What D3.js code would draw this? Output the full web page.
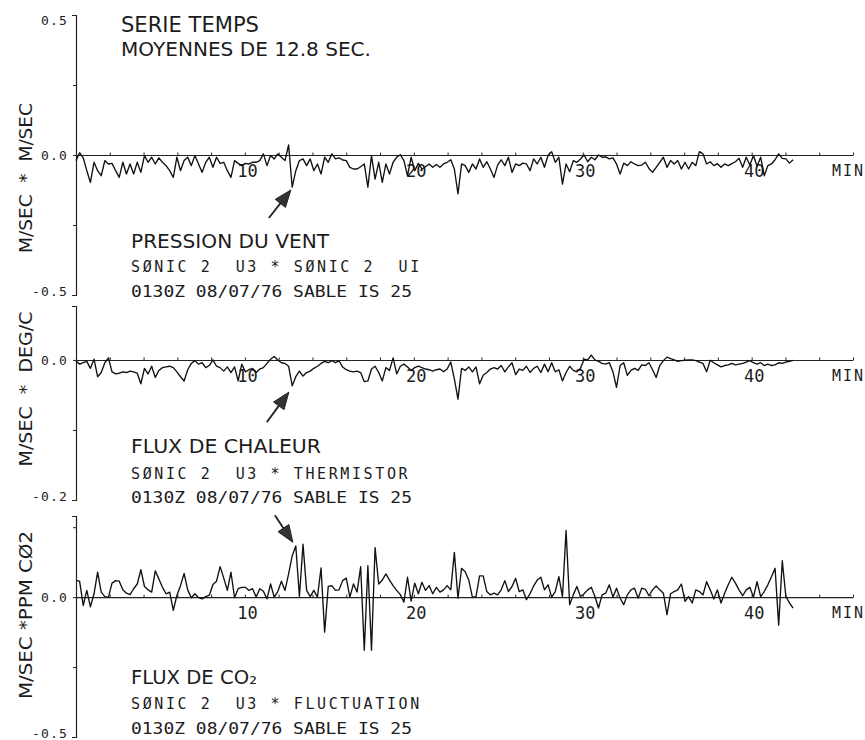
<!DOCTYPE html>
<html>
<head>
<meta charset="utf-8">
<script src="https://cdn.jsdelivr.net/npm/d3@7"></script>
<style>
  body { margin: 0; background: #fff; }
  svg text { fill: #1c1c1c; }
  .mono { font-family: "DejaVu Sans Mono", monospace; }
  .sans { font-family: "DejaVu Sans", "Liberation Sans", sans-serif; }
</style>
</head>
<body>
<div id="chart"></div>
<script>
// one value every 12.8 s (moyennes de 12.8 sec)
const SAMPLE_SEC = 12.8;
const minuteTicks = d3.range(0, 47, 2);
const minuteLabels = [10, 20, 30, 40];

// M/SEC * M/SEC
const pressionVent = [
  -0.02, 0.008, -0.01, -0.056, -0.098, -0.026, -0.056, -0.074, -0.02, -0.032,
  -0.03, -0.056, -0.08, -0.026, -0.068, -0.032, -0.068, -0.026, -0.062, -0.002,
  -0.026, -0.008, -0.032, -0.01, -0.026, -0.038, -0.056, -0.08, -0.008, -0.056,
  -0.02, -0.008, -0.038, -0.002, -0.032, -0.062, -0.026, -0.008, -0.044, -0.008,
  -0.03, -0.026, -0.056, -0.08, -0.02, -0.03, -0.038, -0.03, -0.032, -0.026,
  -0.026, -0.02, 0.004, -0.038, -0.002, -0.014, 0.004, -0.008, -0.02, 0.036,
  -0.115, -0.056, -0.02, -0.014, -0.038, -0.014, -0.056, -0.032, -0.068, -0.008,
  -0.026, 0.004, -0.014, -0.01, -0.018, -0.02, -0.044, -0.05, -0.05, -0.042,
  -0.032, -0.115, -0.002, -0.086, -0.026, -0.098, -0.032, -0.068, -0.026, -0.008,
  0.001, -0.02, -0.074, -0.008, -0.056, -0.03, -0.05, -0.042, -0.032, -0.044,
  -0.034, -0.044, -0.032, -0.026,
  -0.017, -0.05, -0.139, -0.032, -0.038, -0.062, -0.032, -0.05, -0.014, -0.044,
  -0.024, -0.05, -0.08, -0.036, -0.017, -0.038, -0.008, -0.062, -0.032, -0.038,
  -0.029, -0.032, -0.056, -0.014, -0.032, -0.008, -0.044, -0.002, 0.012, -0.026,
  -0.008, -0.104, -0.032, -0.06, -0.02, -0.026, -0.014, 0, -0.024, -0.008,
  -0.017, 0, -0.008, -0.007, -0.014, -0.01, -0.032, -0.068, -0.029, -0.038,
  -0.024, -0.032, -0.038, -0.036, -0.026, -0.048, -0.062, -0.044, -0.026, -0.008,
  -0.044, -0.02, -0.032, -0.02, -0.05, -0.026, -0.05, -0.026, -0.038, 0.012,
  0.004, -0.032, -0.024, -0.038, -0.031, -0.044, -0.032, -0.038, -0.031, -0.024,
  -0.012, -0.044, -0.008, -0.036, -0.002, -0.04, -0.008, -0.074, -0.038, -0.032,
  -0.017, 0.004, -0.012, -0.014, -0.029, -0.017
];

// M/SEC * DEG/C
const fluxChaleur = [
  -0.0015, -0.006, -0.004, -0.002, -0.012, 0.001, -0.024, -0.018, -0.004, 0.003,
  -0.017, -0.02, -0.019, -0.017, -0.018, -0.016, -0.017, -0.019, -0.034, -0.012,
  -0.02, -0.009, -0.025, -0.015, -0.011, -0.01, -0.009, -0.011, -0.017, -0.024,
  -0.03, -0.014, -0.005, -0.001, -0.006, -0.004, -0.011, -0.008, 0, -0.009,
  -0.011, -0.016, -0.01, -0.018, -0.01, -0.03, -0.006, -0.017, -0.014, -0.012,
  -0.018, -0.013, -0.011, -0.005, 0.001, 0.005, 0, -0.004, -0.005, -0.009,
  -0.037, -0.024, -0.016, -0.023, -0.018, -0.016, -0.012, -0.009, -0.005, -0.002,
  -0.004, -0.001, -0.004, -0.0015, -0.01, -0.014, -0.016, -0.017, -0.016, -0.018,
  -0.031, -0.03, -0.013, -0.009, -0.018, -0.03, -0.011, -0.015, 0.003, -0.02,
  -0.009, -0.006, -0.01, -0.015, -0.011, -0.009, -0.011, -0.013, -0.014, -0.016,
  -0.014, -0.013, -0.017, -0.013,
  -0.003, -0.027, -0.056, -0.012, -0.015, -0.01, -0.017, -0.01, -0.034, -0.022,
  -0.018, -0.013, -0.011, -0.013, -0.008, -0.017, -0.01, -0.004, -0.021, -0.013,
  -0.015, -0.009, -0.018, -0.012, -0.009, -0.018, -0.006, -0.017, -0.004, -0.017,
  -0.014, -0.03, -0.018, -0.009, -0.015, -0.017, -0.012, 0.001, 0, 0.007,
  0, -0.002, -0.005, -0.006, -0.004, -0.017, -0.039, -0.008, -0.004, -0.022,
  -0.015, -0.012, -0.015, -0.007, -0.008, -0.004, -0.014, -0.025, -0.008, -0.001,
  0.004, 0.002, 0, -0.002, -0.001, -0.0005, 0, 0, -0.001, -0.003,
  -0.005, -0.017, -0.0005, -0.004, -0.007, -0.01, -0.008, -0.007, -0.005, -0.007,
  -0.006, -0.005, -0.003, -0.001, -0.004, -0.006, -0.004, -0.008, -0.006, -0.008,
  -0.007, -0.004, -0.005, -0.003, -0.002, -0.0005
];

// M/SEC * PPM CO2
const fluxCO2 = [
  0.059, 0.057, -0.03, 0.024, -0.035, 0.012, 0.089, 0.018, 0.002, 0,
  0.05, 0.059, 0.057, 0.026, 0.014, 0.009, 0.03, 0.047, 0.098, 0.038,
  0.026, 0.018, 0.094, 0.065, 0.035, 0.012, 0.018, -0.047, 0.006, 0.041,
  0.085, 0.026, -0.002, 0.012, -0.002, -0.006, 0.002, 0.007, 0.045, 0.057,
  0.109, 0.068, 0.024, 0.089, -0.002, 0.03, 0.035, 0.035, 0.024, 0.03,
  0, 0.03, 0.021, -0.006, 0.047, 0, 0.02, 0.057, 0.024, 0.083,
  0.148, 0.183, 0.002, 0.189, 0.024, 0.002, 0.024, 0, 0.104, -0.125,
  0.038, 0.041, 0.024, 0.026, 0.059, 0.068, 0, 0.047, 0.018, 0.109,
  -0.19, 0.112, -0.19, 0.177, 0.047, 0.061, 0.083, 0.061, 0.041, 0.024,
  0.009, -0.018, 0.071, -0.014, 0.05, 0.012, 0.053, 0.024, 0.041, 0.012,
  0.035, 0.018, 0.026, 0.041,
  0.026, 0.16, -0.004, 0.103, 0.091, 0.061, 0, 0.002, 0.076, 0.076,
  0.02, 0.008, 0.014, 0.008, 0.026, 0.059, 0.02, 0.038, 0.067, 0.02,
  0.026, -0.009, 0.012, 0.04, 0.061, 0.071, 0.026, 0.044, 0, 0.02,
  0.073, 0.002, 0.238, -0.027, 0.008, 0.038, 0.002, 0.012, 0.026, 0.035,
  0.002, -0.039, 0.008, 0.014, 0.044, 0, 0.032, -0.004, -0.027, 0.008,
  0.026, 0.032, -0.004, 0.032, 0.028, 0.005, 0.026, 0.04, 0.026, 0.014,
  -0.063, 0.012, 0.02, 0.026, 0.047, -0.015, 0.002, -0.021, 0.026, 0.02,
  0.008, 0.055, 0.026, -0.007, 0.026, -0.021, 0.014, 0.044, 0.071, 0.05,
  0.026, 0.005, 0.026, 0.035, 0, 0.055, 0.002, 0.02, 0.044, 0.073,
  0.103, -0.1, 0.13, 0.002, -0.021, -0.039
];

const panels = [
  {
    values: pressionVent, domain: [-0.5, 0.5], range: [295, 15],
    labels: [0.5, 0, -0.5], minor: [0.25, -0.25],
    yTitle: "M/SEC  *  M/SEC", yTitleY: 178, yTitleLen: 150,
    title: "PRESSION DU VENT", titleLen: 198,
    line2: "SØNIC 2  U3 * SØNIC 2  UI",
    line3: "0130Z 08/07/76 SABLE IS 25",
    textY: [248, 272, 297],
    arrow: { t: 12.72, v: -0.125, from: [-22, 28] }
  },
  {
    values: fluxChaleur, domain: [-0.2, 0.077], range: [500, 306],
    labels: [0, -0.2], minor: [-0.1],
    yTitle: "M/SEC  *  DEG/C", yTitleY: 389, yTitleLen: 155,
    title: "FLUX DE CHALEUR", titleLen: 190,
    line2: "SØNIC 2  U3 * THERMISTOR",
    line3: "0130Z 08/07/76 SABLE IS 25",
    textY: [453, 479, 503],
    arrow: { t: 12.6, v: -0.046, from: [-22, 30] }
  },
  {
    values: fluxCO2, domain: [-0.5, 0.29], range: [737, 516],
    labels: [0, -0.5], minor: [0.25, -0.25],
    yTitle: "M/SEC *PPM CØ2", yTitleY: 615, yTitleLen: 168,
    title: "FLUX DE CO\u2082", titleLen: 126,
    line2: "SØNIC 2  U3 * FLUCTUATION",
    line3: "0130Z 08/07/76 SABLE IS 25",
    textY: [684, 709, 734],
    arrow: { t: 12.84, v: 0.196, from: [-18, -27] }
  }
];

const width = 865;
const height = 740;
const svg = d3.select("#chart").append("svg")
  .attr("width", width)
  .attr("height", height);

const x = d3.scaleLinear().domain([0, 46]).range([76, 853]);
const fmt = d => d3.format(".1f")(d).replace("\u2212", "-");

svg.append("text")
  .attr("class", "sans")
  .attr("x", 121).attr("y", 32)
  .attr("font-size", 21)
  .attr("textLength", 138).attr("lengthAdjust", "spacingAndGlyphs")
  .text("SERIE TEMPS");

svg.append("text")
  .attr("class", "sans")
  .attr("x", 121).attr("y", 56)
  .attr("font-size", 20)
  .attr("textLength", 250).attr("lengthAdjust", "spacingAndGlyphs")
  .text("MOYENNES DE 12.8 SEC.");

panels.forEach(p => {
  const y = d3.scaleLinear().domain(p.domain).range(p.range);
  const g = svg.append("g");

  // vertical axis
  const yAxis = g.append("g")
    .attr("transform", `translate(${x(0)},0)`)
    .call(d3.axisLeft(y)
      .tickValues(p.labels.concat(p.minor))
      .tickSize(3)
      .tickSizeOuter(4)
      .tickPadding(5)
      .tickFormat(d => p.labels.includes(d) ? fmt(d) : ""));
  yAxis.select(".domain").attr("stroke", "#222").attr("stroke-width", 1.2);
  yAxis.selectAll(".tick line").attr("stroke", "#222");
  yAxis.selectAll(".tick text")
    .attr("class", "mono")
    .attr("font-size", 13)
    .attr("letter-spacing", 1.2)
    .attr("fill", "#1c1c1c")
    .attr("dy", d => d === p.domain[1] ? "0.72em" : d === p.domain[0] ? "0em" : "0.35em");

  // zero line with minute ticks
  const xAxis = g.append("g")
    .attr("transform", `translate(0,${y(0)})`)
    .call(d3.axisBottom(x)
      .tickValues(minuteTicks)
      .tickSize(-2.5)
      .tickSizeOuter(0)
      .tickPadding(10)
      .tickFormat(d => minuteLabels.includes(d) ? d : ""));
  xAxis.select(".domain").attr("stroke", "#222").attr("stroke-width", 1.1);
  xAxis.selectAll(".tick line").attr("stroke", "#222");
  xAxis.selectAll(".tick text")
    .attr("class", "mono")
    .attr("font-size", 17)
    .attr("fill", "#1c1c1c")
    .attr("x", 2);

  g.append("text")
    .attr("class", "mono")
    .attr("x", 832).attr("y", y(0) + 21)
    .attr("font-size", 15)
    .attr("letter-spacing", 2)
    .text("MIN");

  // series
  const line = d3.line()
    .x((d, i) => x(i * SAMPLE_SEC / 60))
    .y(d => y(d));
  g.append("path")
    .datum(p.values)
    .attr("fill", "none")
    .attr("stroke", "#111")
    .attr("stroke-width", 1.35)
    .attr("stroke-linejoin", "round")
    .attr("d", line);

  // axis title
  g.append("text")
    .attr("class", "sans")
    .attr("transform", `translate(32,${p.yTitleY}) rotate(-90)`)
    .attr("text-anchor", "middle")
    .attr("font-size", 18)
    .attr("textLength", p.yTitleLen).attr("lengthAdjust", "spacingAndGlyphs")
    .style("white-space", "pre")
    .text(p.yTitle);

  // arrow pointing at the event
  const tipX = x(p.arrow.t);
  const tipY = y(p.arrow.v);
  const tailX = tipX + p.arrow.from[0];
  const tailY = tipY + p.arrow.from[1];
  const ang = Math.atan2(tipY - tailY, tipX - tailX);
  const hl = 17, hw = 6.5;
  const bx = tipX - hl * Math.cos(ang), by = tipY - hl * Math.sin(ang);
  g.append("line")
    .attr("x1", tailX).attr("y1", tailY)
    .attr("x2", bx).attr("y2", by)
    .attr("stroke", "#222").attr("stroke-width", 1.8);
  g.append("path")
    .attr("d", `M${tipX},${tipY}L${bx + hw * Math.sin(ang)},${by - hw * Math.cos(ang)}L${bx - hw * Math.sin(ang)},${by + hw * Math.cos(ang)}Z`)
    .attr("fill", "#333")
    .attr("stroke", "#222");

  // description block
  g.append("text")
    .attr("class", "sans")
    .attr("x", 131).attr("y", p.textY[0])
    .attr("font-size", 20)
    .attr("textLength", p.titleLen).attr("lengthAdjust", "spacingAndGlyphs")
    .text(p.title);

  g.append("text")
    .attr("class", "mono")
    .attr("x", 131).attr("y", p.textY[1])
    .attr("font-size", 15)
    .attr("letter-spacing", 2.6)
    .style("white-space", "pre")
    .text(p.line2);

  g.append("text")
    .attr("class", "mono")
    .attr("x", 131).attr("y", p.textY[2])
    .attr("font-size", 15)
    .attr("textLength", 281).attr("lengthAdjust", "spacingAndGlyphs")
    .text(p.line3);
});
</script>
</body>
</html>
